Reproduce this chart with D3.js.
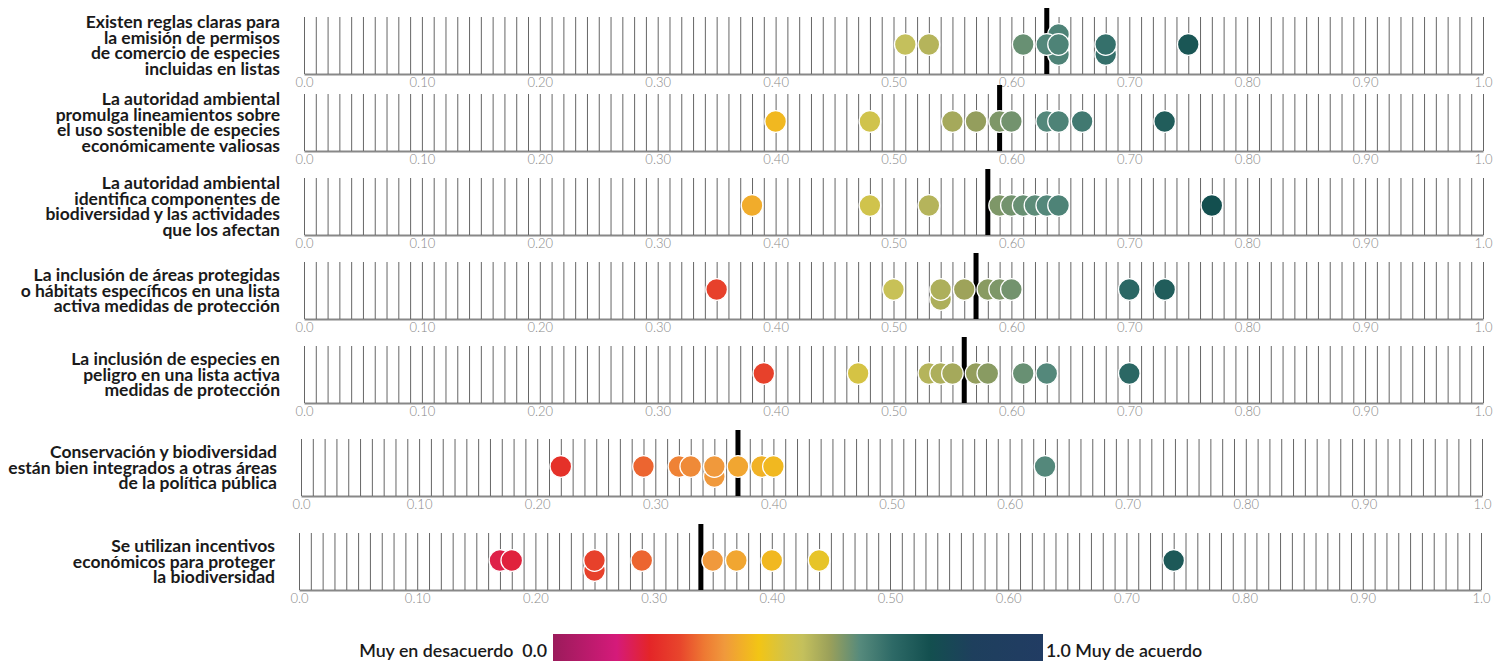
<!DOCTYPE html>
<html lang="es">
<head>
  <meta charset="UTF-8">
  <title>Percepción de la gobernanza de la biodiversidad</title>
  <script src="https://cdn.jsdelivr.net/npm/d3@7"></script>
  <style>
    body {
      margin: 0;
      background: #fff;
      font-family: Lato, sans-serif;
    }
    .axis text {
      font-family: Lato, sans-serif;
      font-weight: 300;
      font-size: 13px;
      fill: #888;
    }
    .axis .tick line { stroke: #666; }
    .axis path.domain { stroke: #888; stroke-width: 2; }
    .question {
      font-weight: 700;
      font-size: 17.5px;
      fill: #1a1a1a;
    }
    .legend-text {
      font-weight: 600;
      font-size: 17.8px;
      fill: #1a1a1a;
    }
  </style>
</head>
<body>
<svg id="chart" width="1506" height="661"></svg>
<script>
  // --- data ---
  var questions = [
    ["Existen reglas claras para", "la emisión de permisos", "de comercio de especies", "incluidas en listas"],
    ["La autoridad ambiental", "promulga lineamientos sobre", "el uso sostenible de especies", "económicamente valiosas"],
    ["La autoridad ambiental", "identifica componentes de", "biodiversidad y las actividades", "que los afectan"],
    ["La inclusión de áreas protegidas", "o hábitats específicos en una lista", "activa medidas de protección"],
    ["La inclusión de especies en", "peligro en una lista activa", "medidas de protección"],
    ["Conservación y biodiversidad", "están bien integrados a otras áreas", "de la política pública"],
    ["Se utilizan incentivos", "económicos para proteger", "la biodiversidad"]
  ];

  var medians = [0.63, 0.59, 0.58, 0.57, 0.56, 0.37, 0.34];

  // one score per respondent, per question
  var scores = [
    [0.51, 0.53, 0.61, 0.63, 0.64, 0.64, 0.64, 0.68, 0.68, 0.75],
    [0.40, 0.48, 0.55, 0.57, 0.59, 0.60, 0.63, 0.64, 0.66, 0.73],
    [0.38, 0.48, 0.53, 0.59, 0.60, 0.61, 0.62, 0.63, 0.64, 0.77],
    [0.35, 0.50, 0.54, 0.54, 0.56, 0.58, 0.59, 0.60, 0.70, 0.73],
    [0.39, 0.47, 0.53, 0.54, 0.55, 0.57, 0.58, 0.61, 0.63, 0.70],
    [0.22, 0.29, 0.32, 0.33, 0.35, 0.35, 0.37, 0.39, 0.40, 0.63],
    [0.17, 0.18, 0.25, 0.25, 0.29, 0.35, 0.37, 0.40, 0.44, 0.74]
  ];

  // colour value of each dot
  var tones = [
    [0.51, 0.53, 0.61, 0.63, 0.64, 0.64, 0.64, 0.68, 0.68, 0.75],
    [0.40, 0.48, 0.55, 0.57, 0.59, 0.60, 0.63, 0.64, 0.66, 0.73],
    [0.38, 0.48, 0.53, 0.59, 0.60, 0.61, 0.62, 0.63, 0.64, 0.77],
    [0.25, 0.50, 0.54, 0.54, 0.56, 0.58, 0.59, 0.60, 0.70, 0.73],
    [0.25, 0.47, 0.53, 0.54, 0.55, 0.57, 0.58, 0.61, 0.63, 0.70],
    [0.22, 0.29, 0.32, 0.33, 0.35, 0.35, 0.37, 0.39, 0.40, 0.63],
    [0.17, 0.18, 0.25, 0.25, 0.29, 0.35, 0.37, 0.40, 0.44, 0.74]
  ];

  var toneStops  = [0, 0.13, 0.197, 0.26, 0.31, 0.35, 0.42, 0.476, 0.51, 0.565, 0.626, 0.694, 0.77, 0.857, 1];
  var toneColors = ["#9b1b5b", "#d51a7a", "#e42528", "#e8462c", "#ee7a33", "#f0993c", "#f2c515",
                    "#d2c34a", "#c4c05c", "#9aa05a", "#568a7c", "#2d6966", "#134f4f", "#1e3f5d", "#213c63"];

  var legendLow = "Muy en desacuerdo  0.0",
      legendHigh = "1.0 Muy de acuerdo";

  // --- layout ---
  var panelTop = [17, 94, 178, 262, 346, 439, 533],
      panelLeft = [304, 304, 304, 304, 304, 301, 299],
      panelRight = [1483, 1483, 1483, 1483, 1483, 1482, 1481],
      panelH = 57,
      radius = 10.8,
      stackStep = 10,
      lineH = 15.5;

  var color = d3.scaleLinear().domain(toneStops).range(toneColors).interpolate(d3.interpolateRgb);

  var svg = d3.select("#chart");

  var tickVals = d3.range(101).map(function(k) { return k / 100; });
  var fmt = function(d) {
    var k = Math.round(d * 100);
    if (k % 10 !== 0) return "";
    return (k === 0 || k === 100) ? d.toFixed(1) : d.toFixed(2);
  };

  questions.forEach(function(lines, i) {
    var top = panelTop[i],
        mid = top + panelH / 2;

    var x = d3.scaleLinear().domain([0, 1]).range([panelLeft[i], panelRight[i]]);

    // grid + axis
    svg.append("g")
        .attr("class", "axis")
        .attr("transform", "translate(0," + (top + panelH) + ")")
        .call(d3.axisBottom(x)
          .tickValues(tickVals)
          .tickSizeInner(-panelH)
          .tickSizeOuter(0)
          .tickPadding(4)
          .tickFormat(fmt));

    // median bar
    svg.append("rect")
        .attr("x", x(medians[i]) - 2.5)
        .attr("y", top - 9)
        .attr("width", 5)
        .attr("height", panelH + 9)
        .attr("fill", "#000");

    // dots, repeated values stacked (centre, below, above)
    var seen = {};
    var dots = scores[i].map(function(v, j) {
      var key = v.toFixed(2);
      var n = seen[key] || 0;
      seen[key] = n + 1;
      var off = n === 0 ? 0 : (n % 2 === 1 ? stackStep * Math.ceil(n / 2) : -stackStep * (n / 2));
      return {v: v, tone: tones[i][j], n: n, off: off};
    });
    dots.sort(function(a, b) { return b.n - a.n || a.v - b.v; });

    svg.append("g").selectAll("circle")
        .data(dots)
      .enter().append("circle")
        .attr("cx", function(d) { return x(d.v); })
        .attr("cy", function(d) { return mid - 1 + d.off; })
        .attr("r", radius)
        .attr("fill", function(d) { return color(d.tone); })
        .attr("stroke", "#fff")
        .attr("stroke-width", 1.3);

    // question label
    var label = svg.append("text")
        .attr("class", "question")
        .attr("text-anchor", "end");
    lines.forEach(function(t, k) {
      label.append("tspan")
          .attr("x", panelLeft[i] - 24)
          .attr("y", mid + (k - (lines.length - 1) / 2) * lineH)
          .attr("dy", "0.35em")
          .text(t);
    });
  });

  // colour legend
  var grad = svg.append("defs").append("linearGradient")
      .attr("id", "toneGrad");
  grad.selectAll("stop")
      .data(toneStops)
    .enter().append("stop")
      .attr("offset", function(d) { return d * 100 + "%"; })
      .attr("stop-color", function(d, k) { return toneColors[k]; });

  var legendX = d3.scaleLinear().domain([0, 1]).range([553, 1043]);

  svg.append("rect")
      .attr("x", legendX(0))
      .attr("y", 634)
      .attr("width", legendX(1) - legendX(0))
      .attr("height", 30)
      .attr("fill", "url(#toneGrad)");

  svg.append("text")
      .attr("class", "legend-text")
      .attr("x", legendX(0) - 6)
      .attr("y", 651)
      .attr("dy", "0.35em")
      .attr("text-anchor", "end")
      .attr("xml:space", "preserve")
      .text(legendLow);

  svg.append("text")
      .attr("class", "legend-text")
      .attr("x", legendX(1) + 3)
      .attr("y", 651)
      .attr("dy", "0.35em")
      .text(legendHigh);
</script>
</body>
</html>
